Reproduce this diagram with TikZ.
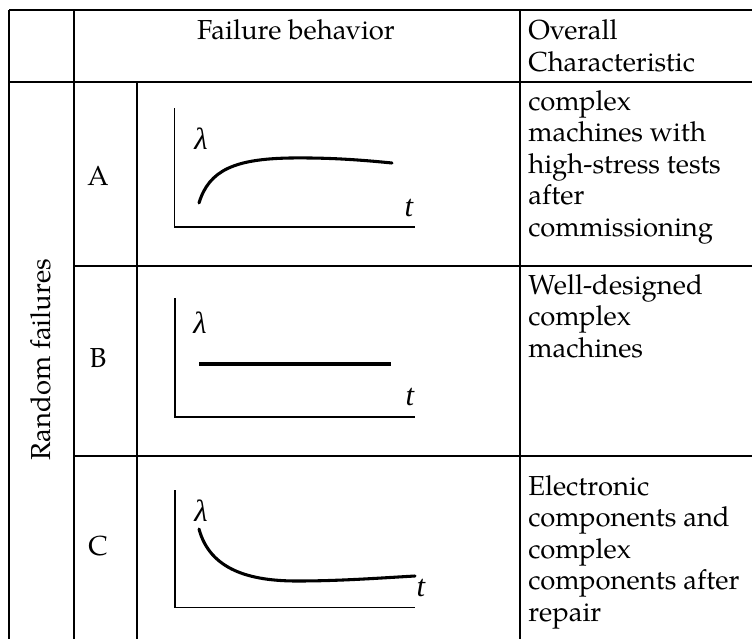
\documentclass[tikz,border=0pt]{standalone}
\usepackage{fontspec}
\setmainfont{TeX Gyre Pagella}
\newfontfamily\plotfont{Liberation Serif}
\newcommand{\cellfont}{\fontsize{20.6pt}{23.6pt}\selectfont}
\newcommand{\axisfont}{\plotfont\itshape\fontsize{23pt}{26pt}\selectfont}

\tikzset{
  rule/.style={line width=1.5pt},
  axisline/.style={line width=0.9pt},
  rate/.style={line width=2.3pt, line cap=round},
  celltext/.style={anchor=base west, inner sep=0pt, font=\cellfont},
  rowlabel/.style={anchor=base, inner sep=0pt, font=\cellfont},
  axislabel/.style={inner sep=0pt, font=\axisfont},
}

\begin{document}
\begin{tikzpicture}[x=0.75pt, y=-0.75pt]
\useasboundingbox (0,0) rectangle (752,639);
\fill[white] (0,0) rectangle (752,639);

% grid of the table (it runs on past the right and bottom edges)
\draw[rule] (9,10) -- (752,10);
\draw[rule] (9,82) -- (752,82);
\draw[rule] (73.5,266) -- (752,266);
\draw[rule] (73.5,455.7) -- (752,455.7);
\draw[rule] (9,10) -- (9,639);
\draw[rule] (73.5,10) -- (73.5,639);
\draw[rule] (137,82) -- (137,639);
\draw[rule] (520,10) -- (520,639);

% header
\node[rowlabel] (hfail) at (296,39.5) {Failure behavior};
\node[celltext] (hover) at (528,39.5) {Overall};
\node[celltext] (hchar) at (528,71) {Characteristic};

% merged first column
\node[inner sep=0pt, font=\cellfont, rotate=90] (rand) at (41,360) {Random failures};

% row labels
\node[rowlabel] (la) at (98,185) {A};
\node[rowlabel] (lb) at (98,367) {B};
\node[rowlabel] (lc) at (98,555) {C};

% row A: characteristic
\node[celltext] (a1) at (528,110) {complex};
\node[celltext] (a2) at (528,141.5) {machines with};
\node[celltext] (a3) at (528,173) {high-stress tests};
\node[celltext] (a4) at (528,204.5) {after};
\node[celltext] (a5) at (528,236) {commissioning};

% row B: characteristic
\node[celltext] (b1) at (528,294) {Well-designed};
\node[celltext] (b2) at (528,325.5) {complex};
\node[celltext] (b3) at (528,357) {machines};

% row C: characteristic
\node[celltext] (c1) at (528,495) {Electronic};
\node[celltext] (c2) at (528,526.5) {components and};
\node[celltext] (c3) at (528,558) {complex};
\node[celltext] (c4) at (528,589.5) {components after};
\node[celltext] (c5) at (528,621) {repair};

% plot A: rate rises, then levels off
\draw[axisline] (174.5,108) -- (174.5,227) -- (415,227);
\node[axislabel] (lama) at (201,139) {λ};
\node[axislabel] (ta) at (409,208) {t};
\draw[rate] (199,203) .. controls (209,170) and (235,159) .. (290,158)
  .. controls (330,157.5) and (362,160) .. (392,163);

% plot B: constant rate
\draw[axisline] (175,298) -- (175,417) -- (415,417);
\node[axislabel] (lamb) at (200,323) {λ};
\node[axislabel] (tb) at (410,397) {t};
\coordinate (bs) at (199,364);
\coordinate (be) at (391,364);
\draw[rate, line cap=butt] (bs) -- (be);

% plot C: rate falls, then levels off
\draw[axisline] (175,490) -- (175,607.5) -- (415,607.5);
\node[axislabel] (lamc) at (201,511) {λ};
\node[axislabel] (tc) at (421,588) {t};
\draw[rate] (199,529) .. controls (210,570) and (250,581) .. (297,581)
  .. controls (340,581) and (380,578) .. (415,576);
\end{tikzpicture}
\end{document}
